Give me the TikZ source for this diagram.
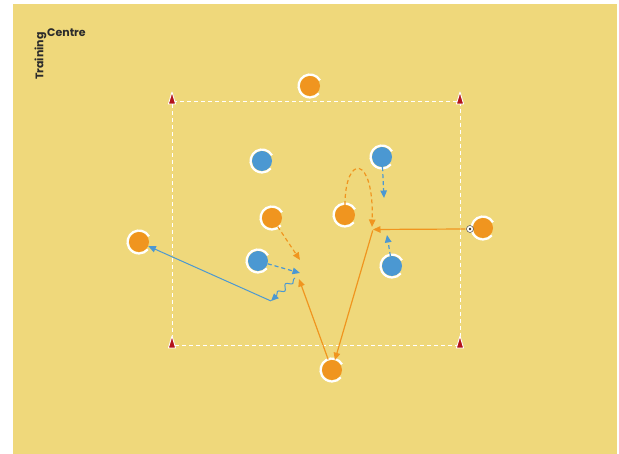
\documentclass[tikz,border=0pt]{standalone}
\usepackage{fontspec}
\newfontfamily\logofont{Poppins}
\usepackage{tikz}
\usetikzlibrary{arrows.meta,decorations.pathmorphing}
\definecolor{PitchYellow}{HTML}{EFD87B}
\definecolor{DrillOrange}{HTML}{F0951F}
\definecolor{DrillBlue}{HTML}{4B98D2}
\definecolor{ConeRed}{HTML}{B3141C}
\definecolor{LogoInk}{HTML}{2B2B2B}

\begin{document}
\begin{tikzpicture}[
  x=1pt,y=1pt,
  >={Triangle[length=7.5pt,width=6.5pt]},
  every node/.style={inner sep=0pt},
  logo/.style={font=\logofont\bfseries\fontsize{11}{12}\selectfont,text=LogoInk},
  orangeplr/.style={circle,fill=DrillOrange,minimum size=20pt},
  blueplr/.style={circle,fill=DrillBlue,minimum size=20pt},
  ring/.style={white,line width=2.2pt},
  ball/.style={circle,fill=white,draw=black!70,line width=0.5pt,minimum size=7pt},
  cone/.style={fill=ConeRed,draw=white,line width=0.9pt,line join=round},
  pitch/.style={white,line width=1pt,dash pattern=on 4pt off 3pt},
  pass/.style={->,DrillOrange,line width=1.2pt,shorten <=1pt},
  orun/.style={->,DrillOrange,line width=1.2pt,dash pattern=on 4pt off 3pt},
  brun/.style={->,DrillBlue,line width=1.2pt,dash pattern=on 4pt off 3pt},
  bpass/.style={->,DrillBlue,line width=1pt},
  dribble/.style={->,DrillBlue,line width=1pt,decorate,
    decoration={snake,amplitude=2.5pt,segment length=11pt,pre length=2pt,post length=5pt}}
]
% background and pitch
\fill[white] (0,0) rectangle (619,454);
\fill[PitchYellow] (13,0) rectangle (617,450);
\useasboundingbox (0,0) rectangle (619,454);
\draw[pitch] (172,108) rectangle (460,352);
\foreach \cx/\cy in {172/352,460/352,172/108,460/108}
  \filldraw[cone] (\cx-3.6,\cy-2) -- (\cx,\cy+10) -- (\cx+3.6,\cy-2) -- cycle;

% logo
\node[logo,anchor=west] (centre) at (47,421) {Centre};
\node[logo,rotate=90,anchor=south west] (training) at (46.5,374) {Training};

% players
\node[orangeplr] (o1) at (310,368) {};
\node[orangeplr] (o2) at (272,236) {};
\node[orangeplr] (o3) at (345,239) {};
\node[orangeplr] (o4) at (139,212) {};
\node[orangeplr] (o5) at (483,226) {};
\node[orangeplr] (o6) at (332,84) {};
\node[blueplr] (b1) at (262,293) {};
\node[blueplr] (b2) at (382,297) {};
\node[blueplr] (b3) at (258,193) {};
\node[blueplr] (b4) at (392,188) {};
\foreach \p in {o1,o2,o3,o4,o5,o6,b1,b2,b3,b4}
  \draw[ring] (\p.center) ++(30:11.5) arc[start angle=30,end angle=320,radius=11.5];
\node[ball] (ball) at (470,225) {};
\fill[black!80] (ball.center) circle (1.3);

% free ends of the movements
\coordinate (recv) at (373,224.5);
\coordinate (shot) at (299,175);
\coordinate (o2end) at (300,194);
\coordinate (loopend) at (372,227);
\coordinate (b2end) at (384,256);
\coordinate (b4end) at (387,219);
\coordinate (b3end) at (300,181);
\coordinate (dribst) at (295,176);
\coordinate (dribend) at (271,153);

% movements
\draw[pass] (ball.west) -- (recv);
\draw[pass] (recv) -- (o6);
\draw[pass] (o6) -- (shot);
\draw[orun] (o2) -- (o2end);
\draw[orun] (o3.north) .. controls (345,300) and (374,300) .. (loopend);
\draw[brun] (b2) -- (b2end);
\draw[brun] (b4) -- (b4end);
\draw[brun] (b3) -- (b3end);
\draw[dribble] (dribst) -- (dribend);
\draw[bpass] (dribend) -- (o4);
\end{tikzpicture}
\end{document}
